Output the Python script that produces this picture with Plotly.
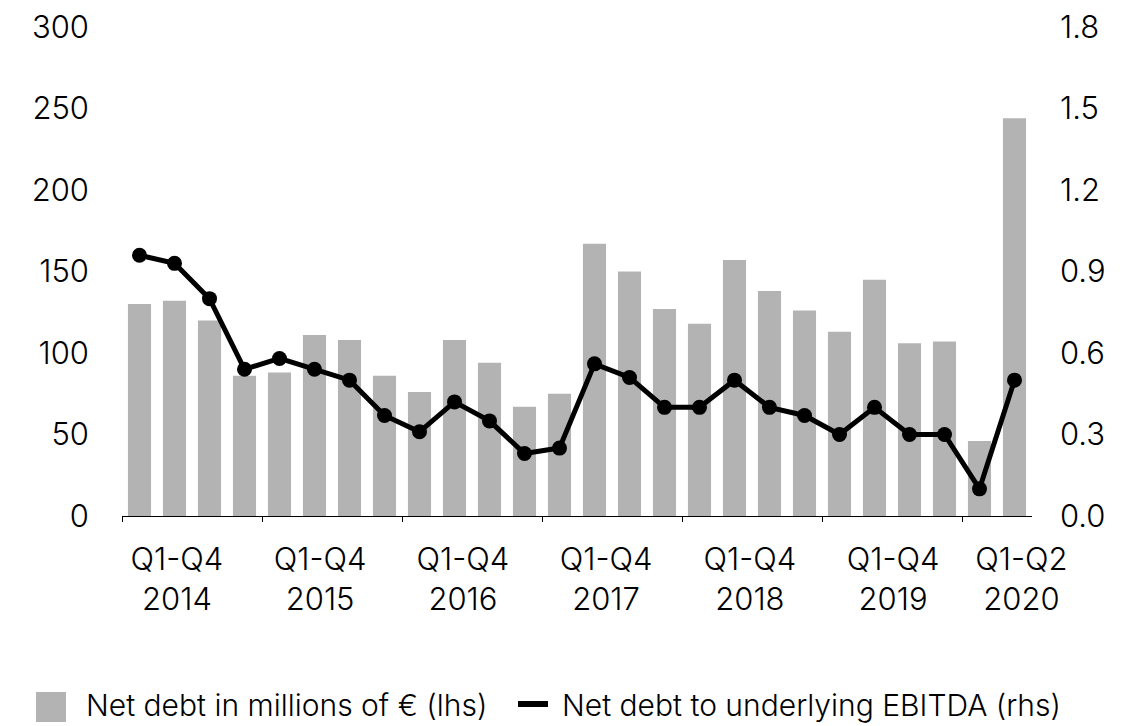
import plotly.graph_objects as go

# Quarterly series, Q1 2014 .. Q2 2020
quarters = [f"Q{q} {y}" for y in range(2014, 2020) for q in range(1, 5)] + ["Q1 2020", "Q2 2020"]
net_debt = [130, 132, 120, 86, 88, 111, 108, 86, 76, 108, 94, 67, 75,
            167, 150, 127, 118, 157, 138, 126, 113, 145, 106, 107, 46, 244]
leverage = [0.96, 0.93, 0.80, 0.54, 0.58, 0.54, 0.50, 0.37, 0.31, 0.42, 0.35, 0.23, 0.25,
            0.56, 0.51, 0.40, 0.40, 0.50, 0.40, 0.37, 0.30, 0.40, 0.30, 0.30, 0.10, 0.50]
period_labels = ["Q1-Q4<br>2014", "Q1-Q4<br>2015", "Q1-Q4<br>2016", "Q1-Q4<br>2017",
                 "Q1-Q4<br>2018", "Q1-Q4<br>2019", "Q1-Q2<br>2020"]
left_ticks = [0, 50, 100, 150, 200, 250, 300]
right_ticks = [0.0, 0.3, 0.6, 0.9, 1.2, 1.5, 1.8]
debt_name = "Net debt in millions of € (lhs)"
lev_name = "Net debt to underlying EBITDA (rhs)"

idx = list(range(len(quarters)))
FONT = "Inter"
W = 300
BAR_COLOR = "#b3b3b3"

# plot-area geometry in pixels
L, R, T, B = 122, 103, 27, 210
WIDTH, HEIGHT = 1135, 726
PW, PH = WIDTH - L - R, HEIGHT - T - B


def px_x(px):
    return (px - L) / PW


def px_y(py):
    return (HEIGHT - B - py) / PH


fig = go.Figure()
fig.add_trace(go.Bar(
    x=idx, y=net_debt, name=debt_name,
    marker=dict(color=BAR_COLOR, line=dict(width=0)),
    hovertext=quarters, yaxis="y", showlegend=False,
))
fig.add_trace(go.Scatter(
    x=idx, y=leverage, name=lev_name, mode="lines+markers", showlegend=False,
    line=dict(color="#000000", width=5),
    marker=dict(color="#000000", size=15),
    hovertext=quarters, yaxis="y2",
))

# tick marks on year boundaries, labels placed under each year group
boundaries = [i - 0.5 for i in range(0, len(quarters), 4)]
label_pos = [1.07, 5.16, 9.24, 13.33, 17.44, 21.53, 25.2]
xr = [-0.5, len(quarters) - 0.5]

tick_font = dict(family=FONT, size=31, weight=W, color="#000000")
legend_font = dict(family=FONT, size=30, weight=W, color="#000000")

# legend keys and labels along the bottom
shapes = [
    dict(type="rect", xref="paper", yref="paper",
         x0=px_x(36), x1=px_x(66), y0=px_y(722), y1=px_y(692),
         fillcolor=BAR_COLOR, line=dict(width=0)),
    dict(type="line", xref="paper", yref="paper",
         x0=px_x(518), x1=px_x(548), y0=px_y(704), y1=px_y(704),
         line=dict(color="#000000", width=6)),
]
annotations = [
    dict(text=debt_name, xref="paper", yref="paper", x=px_x(85), y=px_y(705),
         xanchor="left", yanchor="middle", showarrow=False, borderpad=0,
         font=legend_font),
    dict(text=lev_name, xref="paper", yref="paper", x=px_x(561), y=px_y(705),
         xanchor="left", yanchor="middle", showarrow=False, borderpad=0,
         font=legend_font),
]

fig.update_layout(
    width=WIDTH, height=HEIGHT, autosize=False,
    margin=dict(l=L, r=R, t=T, b=B, autoexpand=False),
    paper_bgcolor="white", plot_bgcolor="white",
    font=dict(family=FONT, size=31, weight=W, color="#000000"),
    bargap=0.34,
    showlegend=False,
    shapes=shapes,
    annotations=annotations,
    xaxis=dict(range=xr, tickvals=boundaries, ticktext=[""] * len(boundaries),
               ticks="outside", ticklen=5, tickwidth=1, tickcolor="#000000",
               showline=True, linecolor="#000000", linewidth=1,
               showgrid=False, zeroline=False, fixedrange=True),
    xaxis2=dict(range=xr, overlaying="x", side="bottom", anchor="y",
                tickvals=label_pos, ticktext=period_labels, ticks="",
                showline=False, showgrid=False, zeroline=False,
                tickfont=tick_font, ticklabelstandoff=22),
    yaxis=dict(range=[0, 300], tickvals=left_ticks, showgrid=False, zeroline=False,
               showline=False, ticks="", ticklabelstandoff=32, tickfont=tick_font),
    yaxis2=dict(range=[0, 1.8], tickvals=right_ticks,
                ticktext=[f"{v:.1f}" for v in right_ticks],
                overlaying="y", side="right", showgrid=False, zeroline=False,
                showline=False, ticks="", ticklabelstandoff=27, tickfont=tick_font),
)
# invisible anchor trace so xaxis2 is rendered
fig.add_trace(go.Scatter(x=[xr[0]], y=[0], xaxis="x2", mode="markers",
                         marker=dict(opacity=0), showlegend=False, hoverinfo="skip"))

fig.write_html("out.html")
